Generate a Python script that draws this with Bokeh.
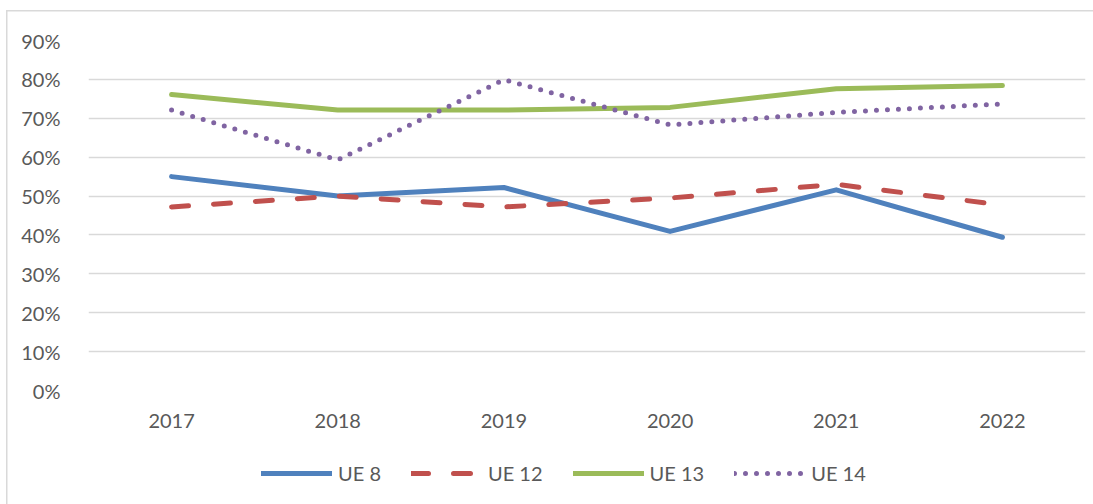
from bokeh.plotting import figure
from bokeh.layouts import column
from bokeh.models import Legend, LegendItem, FactorRange, NumeralTickFormatter, FixedTicker, Range1d
from bokeh.embed import file_html
from bokeh.resources import INLINE

years = ["2017", "2018", "2019", "2020", "2021", "2022"]
ue8 = [0.550, 0.500, 0.522, 0.409, 0.516, 0.394]
ue12 = [0.472, 0.500, 0.472, 0.495, 0.530, 0.477]
ue13 = [0.761, 0.721, 0.721, 0.728, 0.776, 0.784]
ue14 = [0.721, 0.593, 0.799, 0.683, 0.715, 0.737]
y_ticks = [0.0, 0.1, 0.2, 0.3, 0.4, 0.5, 0.6, 0.7, 0.8, 0.9]
labels = ["UE 8", "UE 12", "UE 13", "UE 14"]

FONT = "Lato"
TXT = "#595959"
GRID = "#d9d9d9"

series = [
    (ue8, dict(line_color="#4f81bd")),
    (ue12, dict(line_color="#c0504d", line_dash="17 25")),
    (ue13, dict(line_color="#9bbb59")),
    (ue14, dict(line_color="#8064a2", line_dash="0 11")),
]

p = figure(width=1093, height=440, x_range=FactorRange(*years), y_range=Range1d(0, 0.9),
           output_backend="svg", toolbar_location=None,
           min_border_left=88, min_border_right=8, min_border_top=40, min_border_bottom=50)
p.outline_line_color = None
p.background_fill_color = "white"
p.border_fill_alpha = 0

p.xgrid.grid_line_color = None
p.ygrid.grid_line_color = GRID
p.ygrid.grid_line_width = 1.5
p.yaxis.ticker = FixedTicker(ticks=y_ticks)
p.yaxis.formatter = NumeralTickFormatter(format="0%")

for ax in (p.xaxis[0], p.yaxis[0]):
    ax.axis_line_color = None
    ax.major_tick_line_color = None
    ax.minor_tick_line_color = None
    ax.major_label_text_font = FONT
    ax.major_label_text_font_size = "20px"
    ax.major_label_text_color = TXT
p.xaxis.major_label_standoff = 17
p.yaxis.major_label_standoff = 22

for vals, style in series:
    p.line(years, vals, line_width=5, line_cap="round", line_join="round", **style)

# legend strip (same series, drawn out of view; only the legend shows)
q = figure(width=1093, height=64, x_range=FactorRange(*years), y_range=Range1d(5, 6),
           output_backend="svg", toolbar_location=None,
           min_border_left=0, min_border_right=0, min_border_top=0, min_border_bottom=0)
q.axis.visible = False
q.grid.grid_line_color = None
q.outline_line_color = None
q.background_fill_alpha = 0
q.border_fill_alpha = 0
items = []
for (vals, style), lab in zip(series, labels):
    r = q.line(years, vals, line_width=5, line_cap="round", line_join="round", **style)
    items.append(LegendItem(label=lab, renderers=[r]))

legend = Legend(items=items, orientation="horizontal", location=(173, 19),
                glyph_width=71, glyph_height=20, label_standoff=6, spacing=30,
                padding=0, margin=0, border_line_color=None, background_fill_alpha=0,
                label_text_font=FONT, label_text_font_size="20px", label_text_color=TXT)
q.add_layout(legend, "center")

frame_css = ("linear-gradient(#d9d9d9,#d9d9d9) 6px 10px / 1.5px 100% no-repeat, "
             "linear-gradient(#d9d9d9,#d9d9d9) 6px 10px / 100% 1.5px no-repeat, white")
layout = column(p, q, spacing=0, styles={"background": frame_css})
open("out.html", "w").write(file_html(layout, INLINE))
